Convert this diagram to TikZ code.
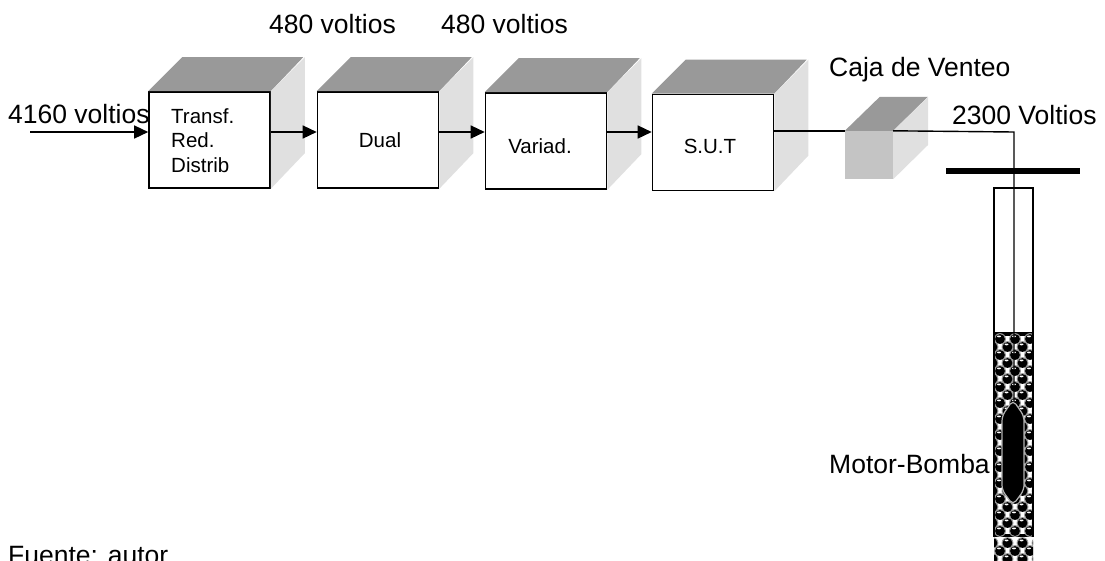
\documentclass[tikz,border=0pt]{standalone}
\usepackage{fontspec}
\setmainfont{Liberation Sans}
\usepackage{tikz}
\usetikzlibrary{arrows.meta,calc}

\begin{document}
\begin{tikzpicture}[x=1pt, y=-1pt, every node/.style={font=\fontsize{26.5}{30}\selectfont}]
    \tikzstyle{frontbox}=[rectangle, draw, line width=1.6pt, fill=white, minimum width=121pt, minimum height=96pt, inner sep=0pt]
    \tikzstyle{inbox}=[anchor=base, inner sep=0pt, font=\fontsize{20.5}{24.5}\selectfont]
    \tikzstyle{caption}=[anchor=base west, inner sep=0pt]
    \tikzstyle{topface}=[fill=black!40]
    \tikzstyle{sideface}=[fill=black!12]
    \tikzstyle{wire}=[line width=1.4pt]
    \tikzstyle{feed}=[wire, -{Triangle[length=14pt, width=13pt]}]

    \useasboundingbox (0,0) rectangle (1105,560);

    \node[frontbox] (transf) at (209.5,140) {};
    \node[frontbox] (dual) at (378,140) {};
    \node[frontbox] (variad) at (546,141) {};
    \node[frontbox] (sut) at (713,142.5) {};

    % depth faces of the four cubes
    \foreach \b in {transf,dual,variad,sut} {
        \fill[topface] (\b.north west) -- ++(34,-34) -- ++(121,0) -- (\b.north east) -- cycle;
        \fill[sideface] (\b.north east) -- ++(34,-34) -- ++(0,96) -- (\b.south east) -- cycle;
    }

    \node[minimum width=48pt, minimum height=48pt, inner sep=0pt, fill=black!23] (caja) at (869,155) {};
    \fill[topface] (caja.north west) -- ++(35,-34) -- ++(48,0) -- (caja.north east) -- cycle;
    \fill[sideface] (caja.north east) -- ++(35,-34) -- ++(0,48) -- (caja.south east) -- cycle;

    \coordinate (in) at (30,132);
    \coordinate (drop) at (1014,132);
    \coordinate (barl) at (946,171);
    \coordinate (barr) at (1080,171);

    % tube: empty part, then the packed part below the level
    \coordinate (tubetl) at (994,188);
    \coordinate (tubetr) at (1033,188);
    \coordinate (levell) at (994,332);
    \coordinate (tubebr) at (1033,537);
    \coordinate (bottomr) at (1033,560);
    \begin{scope}
        \clip (levell) rectangle (bottomr);
        \fill[black] (levell) rectangle (tubebr);
        \foreach \row in {0,...,27} {
            \foreach \col in {0,...,3} {
                \pgfmathsetmacro{\py}{\row<25 ? 339+8*\row : 343+8*\row}
                \pgfmathsetmacro{\px}{985+15*\col+7.5*mod(\row,2)}
                \fill[white] (\px+7.5,\py) ++(-3.4,-3.4) rectangle ++(6.8,6.8);
                \fill[black!40] (\px,\py) circle (5.9);
                \fill[black] (\px,\py) circle (4.9);
                \fill[white] (\px-1,\py-2.6) ellipse (2 and 0.9);
            }
        }
    \end{scope}
    \draw[wire] (levell) -- (tubetl) -- (tubetr) -- (tubebr);
    \draw[wire] (tubetl) -- (tubetl |- tubebr);

    \draw[feed] (in) -- (transf.west |- in);
    \draw[feed] (transf.east |- in) -- (dual.west |- in);
    \draw[feed] (dual.east |- in) -- (variad.west |- in);
    \draw[feed] (variad.east |- in) -- (sut.west |- in);
    \draw[wire] (sut.east |- caja.north) -- (caja.north west);
    \draw[wire] (caja.north east) -- (drop) -- (1014,410);
    \draw[line width=6pt] (barl) -- (barr);

    % motor inside the tube
    \draw[black!30, fill=black, line width=1.2pt, rounded corners=5pt] (1013,400) -- (1024,416) -- (1024,490) -- (1013,505) -- (1002,490) -- (1002,416) -- cycle;

    \node[inbox, anchor=base west, align=left] (ltransf) at (171,172) {Transf.\\Red.\\Distrib};
    \node[inbox] (ldual) at (380,147) {Dual};
    \node[inbox] (lvariad) at (540,153) {Variad.};
    \node[inbox] (lsut) at (710,153) {S.U.T};

    \node[caption] (lin) at (8,123) {4160 voltios};
    \node[caption] (v1) at (269,33) {480 voltios};
    \node[caption] (v2) at (441,33) {480 voltios};
    \node[caption] (lcaja) at (829,76) {Caja de Venteo};
    \node[caption] (lout) at (952,124) {2300 Voltios};
    \node[caption] (lmotor) at (829,473) {Motor-Bomba};
    \node[caption] (lsrc) at (8,564) {Fuente: autor};
\end{tikzpicture}
\end{document}
